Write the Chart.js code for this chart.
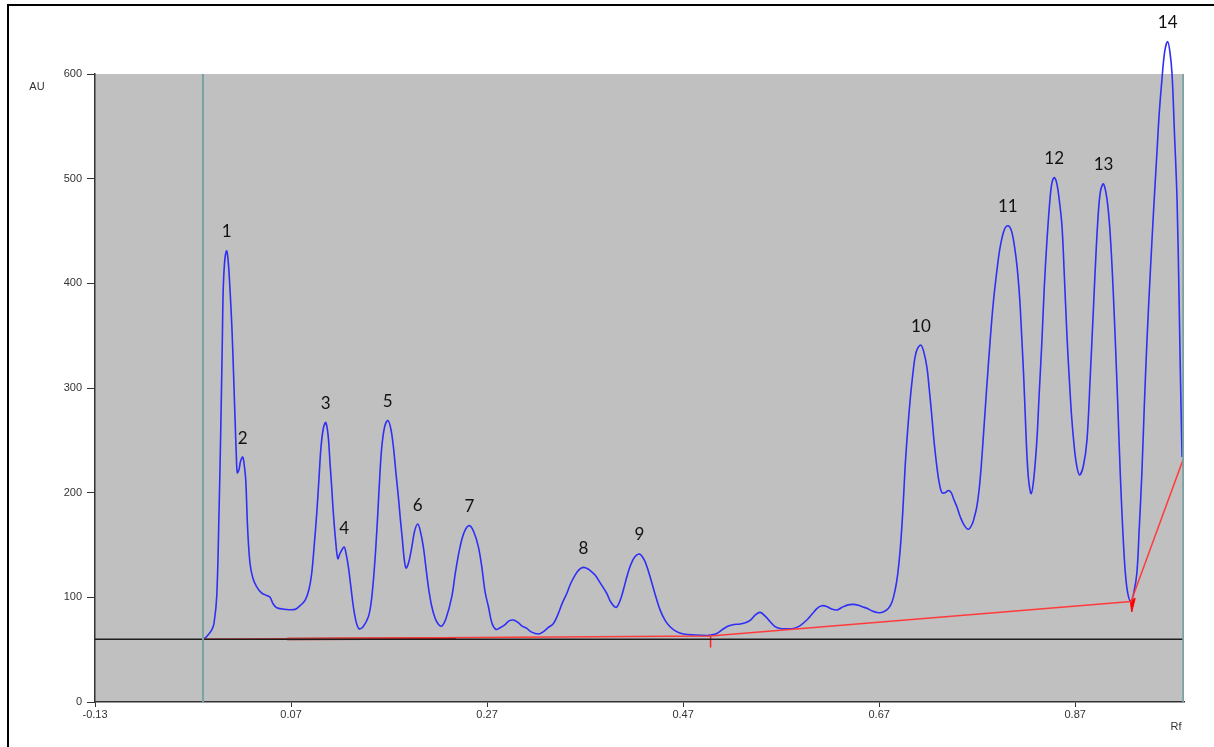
<!DOCTYPE html>
<html>
<head>
<meta charset="utf-8">
<script src="https://cdn.jsdelivr.net/npm/chart.js@4"></script>
<style>
  html, body { margin: 0; padding: 0; background: #fff; }
  #wrap { position: relative; width: 1214px; height: 747px; overflow: hidden; }
  #frame { position: absolute; left: 7px; top: 4px; width: 1300px; height: 800px;
           border-left: 2.5px solid #000; border-top: 2.5px solid #000; pointer-events: none; }
  canvas { position: absolute; left: 0; top: 0; }
</style>
</head>
<body>
<div id="wrap">
  <canvas id="densitogram" width="1214" height="747"></canvas>
  <div id="frame"></div>
</div>
<script>
// scan trace (Rf vs AU)
const curveRf = [
  -0.0198, -0.0178, -0.0147, -0.0109, -0.0086, -0.0058, -0.0035, -0.0017, -0.0001, 0.0009,
  0.0027, 0.0044, 0.0060, 0.0078, 0.0098, 0.0113, 0.0129, 0.0142, 0.0152, 0.0169,
  0.0185, 0.0207, 0.0223, 0.0238, 0.0258, 0.0282, 0.0312, 0.0350, 0.0401, 0.0445,
  0.0486, 0.0516, 0.0554, 0.0639, 0.0741, 0.0792, 0.0843, 0.0884, 0.0911, 0.0935,
  0.0962, 0.0986, 0.1006, 0.1031, 0.1054, 0.1078, 0.1098, 0.1115, 0.1132, 0.1154,
  0.1177, 0.1200, 0.1241, 0.1261, 0.1285, 0.1313, 0.1336, 0.1363, 0.1394, 0.1435,
  0.1489, 0.1517, 0.1540, 0.1563, 0.1585, 0.1605, 0.1626, 0.1655, 0.1687, 0.1716,
  0.1744, 0.1771, 0.1795, 0.1815, 0.1836, 0.1853, 0.1873, 0.1899, 0.1932, 0.1960,
  0.1993, 0.2022, 0.2050, 0.2078, 0.2101, 0.2134, 0.2170, 0.2205, 0.2238, 0.2282,
  0.2340, 0.2379, 0.2424, 0.2470, 0.2521, 0.2567, 0.2612, 0.2646, 0.2680, 0.2714,
  0.2751, 0.2792, 0.2833, 0.2884, 0.2924, 0.2968, 0.3016, 0.3057, 0.3105, 0.3149,
  0.3224, 0.3272, 0.3322, 0.3377, 0.3424, 0.3465, 0.3513, 0.3552, 0.3598, 0.3639,
  0.3683, 0.3731, 0.3771, 0.3802, 0.3853, 0.3921, 0.3965, 0.4016, 0.4057, 0.4093,
  0.4126, 0.4165, 0.4206, 0.4254, 0.4302, 0.4332, 0.4363, 0.4414, 0.4465, 0.4516,
  0.4567, 0.4629, 0.4703, 0.4822, 0.4942, 0.4986, 0.5044, 0.5098, 0.5162, 0.5220,
  0.5282, 0.5333, 0.5384, 0.5435, 0.5486, 0.5537, 0.5588, 0.5639, 0.5690, 0.5761,
  0.5826, 0.5894, 0.5962, 0.6016, 0.6067, 0.6115, 0.6159, 0.6210, 0.6268, 0.6322,
  0.6384, 0.6438, 0.6486, 0.6527, 0.6575, 0.6629, 0.6680, 0.6710, 0.6751, 0.6795,
  0.6833, 0.6863, 0.6889, 0.6914, 0.6940, 0.6965, 0.6991, 0.7016, 0.7042, 0.7067,
  0.7093, 0.7126, 0.7154, 0.7187, 0.7210, 0.7238, 0.7261, 0.7289, 0.7312, 0.7340,
  0.7373, 0.7407, 0.7435, 0.7460, 0.7493, 0.7527, 0.7567, 0.7611, 0.7649, 0.7675,
  0.7697, 0.7720, 0.7741, 0.7764, 0.7797, 0.7833, 0.7863, 0.7901, 0.7935, 0.7976,
  0.8013, 0.8047, 0.8078, 0.8108, 0.8134, 0.8154, 0.8173, 0.8190, 0.8207, 0.8226,
  0.8251, 0.8277, 0.8309, 0.8333, 0.8361, 0.8384, 0.8412, 0.8445, 0.8465, 0.8486,
  0.8511, 0.8537, 0.8565, 0.8588, 0.8616, 0.8639, 0.8664, 0.8690, 0.8715, 0.8744,
  0.8782, 0.8820, 0.8853, 0.8887, 0.8914, 0.8938, 0.8960, 0.8989, 0.9022, 0.9047,
  0.9068, 0.9088, 0.9108, 0.9134, 0.9159, 0.9185, 0.9210, 0.9236, 0.9268, 0.9297,
  0.9329, 0.9353, 0.9380, 0.9404, 0.9432, 0.9466, 0.9500, 0.9534, 0.9557, 0.9585,
  0.9614, 0.9643, 0.9665, 0.9688, 0.9712, 0.9739, 0.9760, 0.9773, 0.9790
];
const curveAU = [
  60, 61, 64, 69, 75, 101, 180, 260, 345, 397,
  425, 431, 420, 393, 355, 315, 270, 235, 219, 222,
  230, 234, 226, 212, 164, 132, 118, 110, 104, 102,
  100, 94, 90, 88.5, 88.5, 92, 97, 108, 123, 148,
  180, 215, 244, 262, 267, 255, 228, 205, 180, 155,
  137, 142, 148, 142, 129, 108, 91, 77, 70, 72,
  81.5, 95, 116, 145, 180, 215, 244, 263, 269, 262,
  244, 218, 196, 175, 155, 138, 128, 133, 148, 163,
  170, 162, 148, 127, 110, 92, 80, 74, 72.6, 80,
  100.6, 125, 148, 163, 168.5, 162, 148, 129, 105, 91,
  75, 69.3, 71, 74, 77.5, 78.3, 76, 72.5, 70.3, 67,
  65, 67, 71, 75, 84, 94, 103.7, 113, 121.3, 126.5,
  128.6, 127, 124, 121.3, 114, 103.7, 95, 90.4, 97, 108,
  119.7, 131, 138.5, 141.4, 136, 129, 119.7, 103, 88, 78,
  71.9, 67.5, 65, 64, 63.6, 64, 65.5, 69, 72.6, 74,
  74.5, 75.7, 78, 83, 85.6, 82, 76.7, 72, 70.3, 70,
  70.3, 73, 78.3, 84, 89.5, 92, 91.5, 89, 87.9, 90.5,
  92.8, 93.3, 92.5, 91, 89.5, 87, 85.5, 85.3, 86.5, 89.5,
  96, 107, 122, 145, 180, 224.7, 260, 288.4, 312, 330,
  338, 341, 335, 320, 300, 272.5, 248, 224.7, 210, 200,
  200, 202, 200, 194, 186.5, 177, 169, 165, 170, 178,
  187, 203, 225, 255, 300, 346, 380, 412, 435, 451,
  455, 451, 437, 415, 385, 350, 314, 275, 237, 211,
  199, 213, 250, 295, 346, 395, 441, 483, 497, 501,
  496, 480, 455, 410, 350, 310, 272, 244, 226, 217,
  225, 250, 310, 378, 432, 470, 489, 495, 482, 460,
  430, 392, 348, 285, 220, 165, 125, 104, 96, 104,
  123, 165, 218, 280, 345, 410, 470, 525, 562, 595,
  622, 631, 622, 600, 545, 480, 384, 314, 234
];

// numbered peaks
const peakNames = ['1', '2', '3', '4', '5', '6', '7', '8', '9', '10', '11', '12', '13', '14'];
const peakRf = [0.0044, 0.0207, 0.1054, 0.1241, 0.1687, 0.1993, 0.2521, 0.3683, 0.4254, 0.7126, 0.8013, 0.8486, 0.8989, 0.9643];
const peakAU = [431, 234, 267, 148, 269, 170, 168.5, 128.6, 141.4, 341, 455, 501, 495, 631];

// zero line and integration baseline
const zeroRf = [-0.13, 0.981];
const zeroAU = [60, 60];
const baseRf = [-0.0198, 0.498, 0.927, 0.981];
const baseAU = [60, 63, 96, 234];
const overlapRf = [0.066, 0.238];
const overlapAU = [60.3, 60.6];

// start/end markers of the integration windows
const markRf = [-0.0198, 0.498];
const markTop = [60, 63];
const markBottom = [49, 52];
const wedgeRf = [0.9261, 0.9312, 0.9277, 0.9261];
const wedgeAU = [97, 99, 86, 97];

// application and solvent-front lines
const frontRf = [-0.0198, 0.9802];

// axes
const xTicks = [-0.13, 0.07, 0.27, 0.47, 0.67, 0.87];
const xMin = -0.13, xMax = 0.981;
const yMin = 0, yMax = 600, yStep = 100;

const pts = (xs, ys) => xs.map((x, i) => ({ x, y: ys[i] }));

const datasets = [];
frontRf.forEach(rf => {
  datasets.push({
    data: pts([rf, rf], [yMin, yMax]),
    borderColor: '#7aa3a3', borderWidth: 2, pointRadius: 0
  });
});
datasets.push({
  data: pts(zeroRf, zeroAU),
  borderColor: '#1e1e1e', borderWidth: 1.5, pointRadius: 0
});
datasets.push({
  data: pts(baseRf, baseAU),
  borderColor: '#ff3b3b', borderWidth: 1.5, pointRadius: 0
});
datasets.push({
  data: pts(overlapRf, overlapAU),
  borderColor: '#b00000', borderWidth: 2.5, pointRadius: 0
});
markRf.forEach((rf, i) => {
  datasets.push({
    data: pts([rf, rf], [markTop[i], markBottom[i]]),
    borderColor: '#ff2020', borderWidth: 1.5, pointRadius: 0
  });
});
datasets.push({
  data: pts(wedgeRf, wedgeAU),
  borderColor: '#ff0000', backgroundColor: '#ff0000', borderWidth: 1,
  pointRadius: 0, fill: 'shape'
});
datasets.push({
  data: pts(curveRf, curveAU),
  borderColor: '#2f2ff5', borderWidth: 1.6, pointRadius: 0,
  tension: 0.35, capBezierPoints: false, clip: false
});

// grey plot field
const plotBackground = {
  id: 'plotBackground',
  beforeDraw(chart) {
    const { ctx, chartArea: a } = chart;
    ctx.save();
    ctx.fillStyle = '#c0c0c0';
    ctx.fillRect(a.left, a.top, a.right - a.left, a.bottom - a.top);
    ctx.restore();
  }
};

// peak numbers and axis titles
const annotations = {
  id: 'annotations',
  afterDatasetsDraw(chart) {
    const { ctx, scales: { x, y } } = chart;
    ctx.save();
    ctx.fillStyle = '#111';
    ctx.font = '17px Lato, "Open Sans", sans-serif';
    ctx.textAlign = 'center';
    ctx.textBaseline = 'middle';
    peakNames.forEach((name, i) => {
      ctx.fillText(name, x.getPixelForValue(peakRf[i]), y.getPixelForValue(peakAU[i]) - 19);
    });
    ctx.fillStyle = '#333';
    ctx.font = '11px "Liberation Sans", Arial, sans-serif';
    ctx.fillText('AU', 37, 87);
    ctx.fillText('Rf', 1176, 727);
    ctx.restore();
  }
};

new Chart(document.getElementById('densitogram'), {
  type: 'line',
  data: { datasets },
  options: {
    responsive: false,
    animation: false,
    layout: { padding: { left: 0, top: 74, right: 30, bottom: 0 } },
    plugins: { legend: { display: false }, tooltip: { enabled: false } },
    scales: {
      x: {
        type: 'linear', min: xMin, max: xMax,
        afterBuildTicks: s => { s.ticks = xTicks.map(v => ({ value: v })); },
        afterFit: s => { s.height = 45; },
        grid: { drawOnChartArea: false, drawTicks: true, tickLength: 5, color: '#333' },
        border: { color: '#333', width: 1.5 },
        ticks: {
          color: '#333', padding: 1, maxRotation: 0, autoSkip: false,
          font: { family: '"Liberation Sans", Arial, sans-serif', size: 11 },
          callback: v => v.toFixed(2)
        }
      },
      y: {
        min: yMin, max: yMax,
        afterFit: s => { s.width = 95; },
        grid: { drawOnChartArea: false, drawTicks: true, tickLength: 8, color: '#333' },
        border: { color: '#333', width: 1.5 },
        ticks: {
          stepSize: yStep, color: '#333', padding: 5,
          font: { family: '"Liberation Sans", Arial, sans-serif', size: 11 }
        }
      }
    }
  },
  plugins: [plotBackground, annotations]
});
</script>
</body>
</html>
